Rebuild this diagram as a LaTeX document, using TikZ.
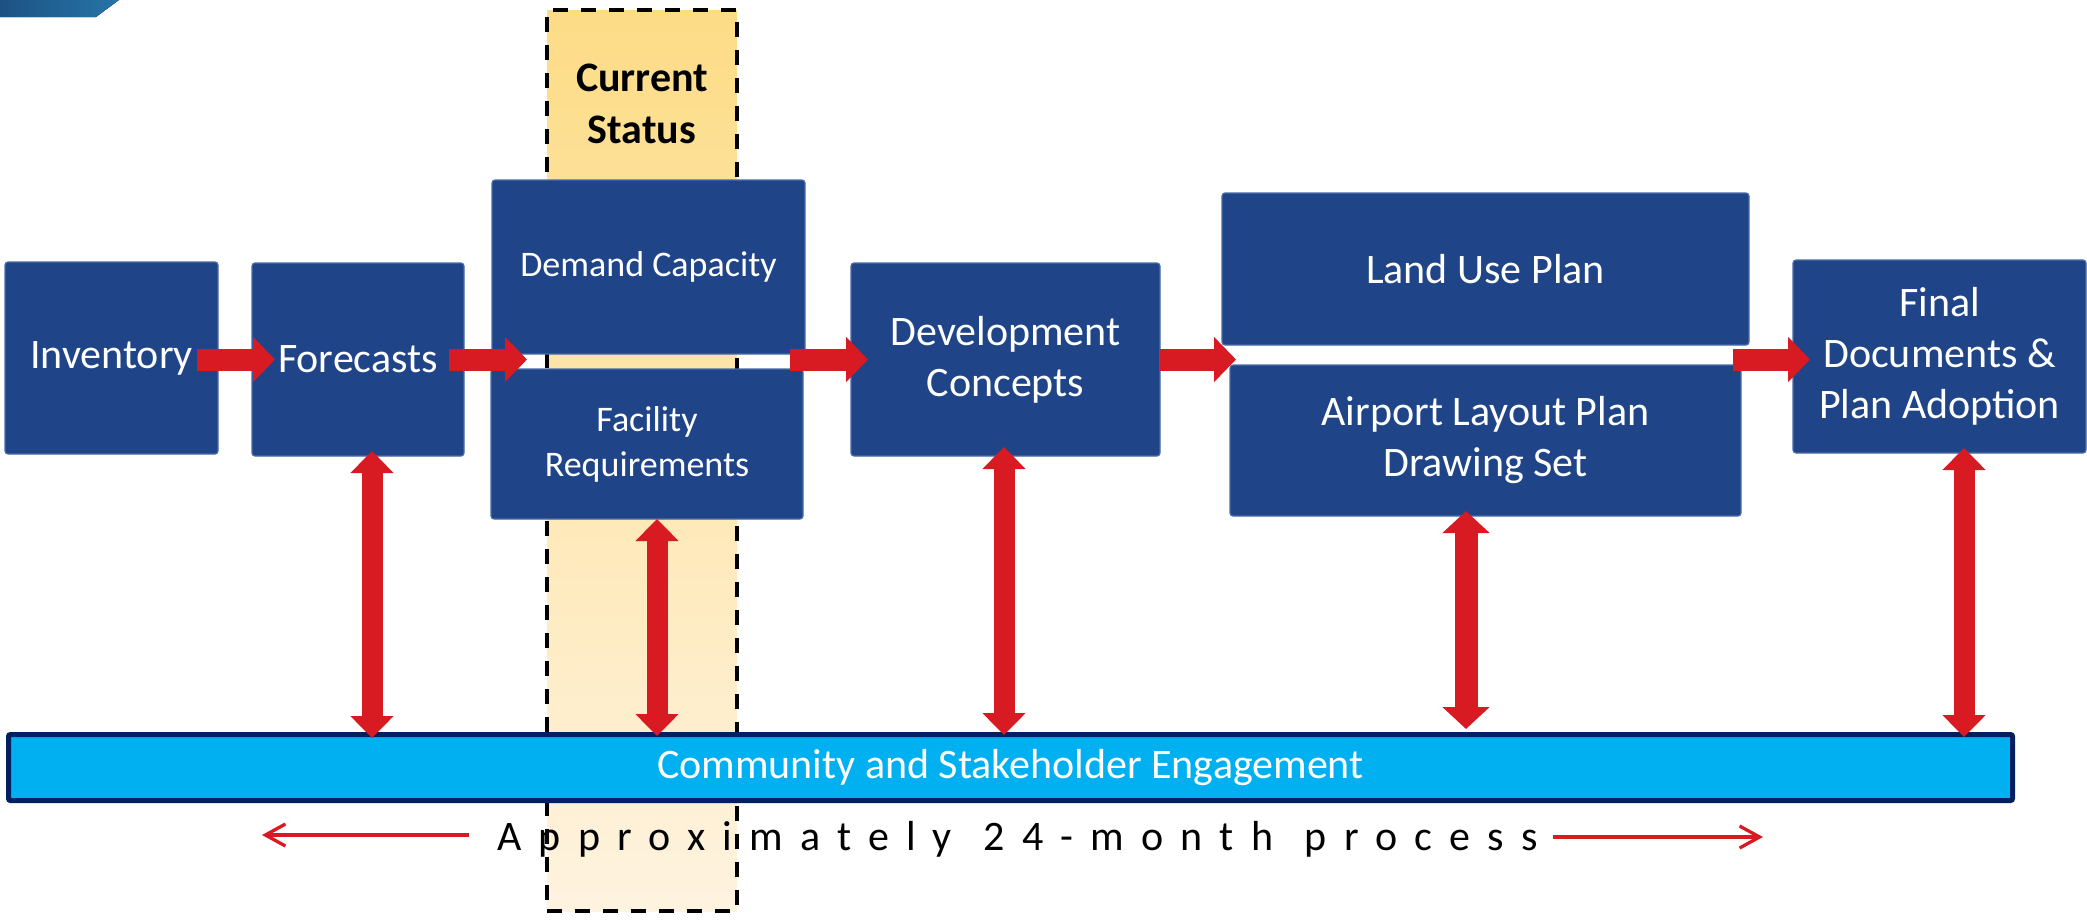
\documentclass[tikz,border=0pt]{standalone}
\usepackage{fontspec}
\setmainfont{Carlito}
\usetikzlibrary{arrows.meta,calc}
\definecolor{boxblue}{HTML}{1F4488}
\definecolor{boxedge}{HTML}{4A6BA8}
\definecolor{arrred}{HTML}{D81B23}
\definecolor{barfill}{HTML}{00B0F0}
\definecolor{baredge}{HTML}{002060}
\definecolor{ytop}{HTML}{FDDC86}
\definecolor{ybot}{HTML}{FEF3E0}
\definecolor{tlA}{HTML}{1D5283}
\definecolor{tlB}{HTML}{2674A8}
\begin{document}
\begin{tikzpicture}[x=0.5pt,y=-0.5pt,
  stage/.style={fill=boxblue, draw=boxedge, line width=0.6pt, rounded corners=1.5pt,
    inner sep=0pt, outer sep=0pt, text=white, align=center,
    font=\fontsize{21}{25.5}\selectfont},
  smallstage/.style={stage, font=\fontsize{18}{22.5}\selectfont},
  status/.style={top color=ytop, bottom color=ybot, draw=black, line width=2pt,
    dash pattern=on 7.5pt off 6.5pt, inner sep=0pt, outer sep=0pt},
  statustext/.style={align=center, text=black, font=\fontsize{21}{26}\selectfont\bfseries},
  engage/.style={fill=barfill, draw=baredge, line width=2.5pt, rounded corners=1pt,
    inner sep=0pt, outer sep=0pt, text=white, font=\fontsize{21}{25}\selectfont},
  harrow/.style={draw=arrred, line width=11pt, -{Triangle[width=22pt,length=11pt]}},
  vdarrow/.style={draw=arrred, line width=10.5pt,
    {Triangle[width=21pt,length=11pt]}-{Triangle[width=21pt,length=11pt]}},
  vdarrowbig/.style={draw=arrred, line width=11.5pt,
    {Triangle[width=23pt,length=11pt]}-{Triangle[width=23pt,length=11pt]}},
  thinarrow/.style={draw=arrred, line width=1.65pt, -{Straight Barb[length=10pt,width=11pt]}},
  proctext/.style={text=black, inner sep=0pt,
    font=\fontsize{21}{25}\selectfont\addfontfeature{LetterSpace=41}}
]
\useasboundingbox (0,0) rectangle (2087,923);

% top-left decoration
\fill[left color=tlA, right color=tlB] (0,0) -- (119,0) -- (96,17) -- (0,17) -- cycle;

% current status highlight (behind)
\node[status, minimum width=95pt, minimum height=450.5pt] (cs) at (642,460.5) {};
\node[statustext] (cst) at (642,104) {Current\\Status};

% stage boxes
\node[stage, minimum width=106.5pt, minimum height=96pt] (inv) at (111.5,358) {Inventory};
\node[stage, minimum width=106pt, minimum height=96.5pt] (fc) at (358,359.5) {Forecasts};
\node[smallstage, minimum width=156.5pt, minimum height=87pt] (dc) at (648.5,267) {Demand Capacity};
\node[smallstage, minimum width=156pt, minimum height=75pt] (fr) at (647,444) {Facility\\Requirements};
\node[stage, minimum width=154.5pt, minimum height=96.5pt] (dev) at (1005.5,359.5) {Development\\Concepts};
\node[stage, minimum width=263.5pt, minimum height=76pt] (lu) at (1485.5,269) {Land Use Plan};
\node[stage, minimum width=255.5pt, minimum height=75.5pt] (alp) at (1485.5,440.5) {Airport Layout Plan\\Drawing Set};
\node[stage, minimum width=146.5pt, minimum height=96.5pt] (fin) at (1939.5,356.5) {Final\\Documents \&\\Plan Adoption};

% engagement bar
\node[engage, minimum width=1002pt, minimum height=33pt] (bar) at (1010.5,767.5) {Community and Stakeholder Engagement};

% horizontal flow arrows
\draw[harrow] ($(fc.west -| inv.east)+(-21,0)$) -- ($(fc.west)+(23,0)$);
\draw[harrow] ($(fc.east)+(-15,0)$) -- ($(fc.east -| dc.west)+(35,0)$);
\draw[harrow] ($(dev.west -| dc.east)+(-15,0)$) -- ($(dev.west)+(17,0)$);
\draw[harrow] (dev.east) -- ($(dev.east -| alp.west)+(6,0)$);
\draw[harrow] ($(dev.east -| alp.east)+(-8,0)$) -- ($(dev.east -| fin.west)+(17,0)$);

% vertical engagement arrows
\draw[vdarrow] ($(fc.south)+(14,-5)$) -- ($(fc.south |- bar.north)+(14,3.5)$);
\draw[vdarrow] ($(fr.south)+(10,0)$) -- ($(fr.south |- bar.north)+(10,1.5)$);
\draw[vdarrow] ($(dev.south)+(-1.5,-9)$) -- ($(dev.south |- bar.north)+(-1.5,0.5)$);
\draw[vdarrowbig] ($(alp.south)+(-19.5,-5)$) -- ($(alp.south |- bar.north)+(-19.5,-5.5)$);
\draw[vdarrow] ($(fin.south)+(24.5,-5)$) -- ($(fin.south |- bar.north)+(24.5,2.5)$);

% process duration
\node[proctext, anchor=base west] (proc) at (497,850) {Approximately\hspace{2.5pt} 24-month\hspace{2.5pt} process};
\coordinate (l0) at (469,835);
\coordinate (l1) at (262,835);
\coordinate (r0) at (1553,837);
\coordinate (r1) at (1763,837);
\draw[thinarrow] (l0) -- (l1);
\draw[thinarrow] (r0) -- (r1);
\end{tikzpicture}
\end{document}
